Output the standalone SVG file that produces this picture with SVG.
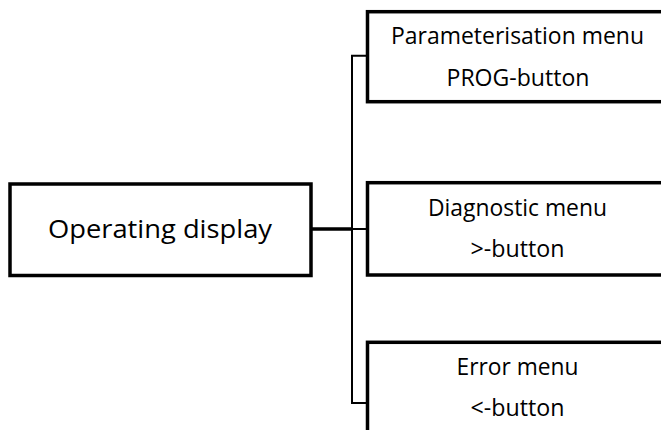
<svg xmlns="http://www.w3.org/2000/svg" width="661" height="430" viewBox="0 0 661 430">
<style>
.box{fill:#fff;stroke:#000;stroke-width:3.5}
.thin{fill:none;stroke:#000;stroke-width:2}
.thick{fill:none;stroke:#000;stroke-width:3.5}
text{font-family:"Open Sans","Noto Sans",sans-serif;fill:#000;text-anchor:middle}
.s{font-size:23px}
.l{font-size:26px}
</style>
<rect width="661" height="430" fill="#fff"/>
<g id="connectors">
<path class="thin" d="M367.5,55.7 H352 V403 H367.5"/>
<path class="thin" d="M352,229 H367.5"/>
<path class="thick" d="M311,229 H352"/>
</g>
<g id="operating-display">
<rect class="box" x="10" y="184" width="301" height="91.5"/>
<text class="l" x="160" y="238" textLength="224" lengthAdjust="spacingAndGlyphs">Operating display</text>
</g>
<g id="parameterisation-menu">
<rect class="box" x="367.5" y="11.7" width="310" height="90"/>
<text class="s" x="517.5" y="44.3" textLength="253" lengthAdjust="spacingAndGlyphs">Parameterisation menu</text>
<text class="s" x="518" y="85.7" textLength="143" lengthAdjust="spacingAndGlyphs">PROG-button</text>
</g>
<g id="diagnostic-menu">
<rect class="box" x="367.5" y="182.7" width="310" height="92.3"/>
<text class="s" x="517.5" y="215.5" textLength="179" lengthAdjust="spacingAndGlyphs">Diagnostic menu</text>
<text class="s" x="517.5" y="256.8" textLength="94" lengthAdjust="spacingAndGlyphs">&gt;-button</text>
</g>
<g id="error-menu">
<rect class="box" x="367.5" y="342.3" width="310" height="120"/>
<text class="s" x="517.5" y="375" textLength="122" lengthAdjust="spacingAndGlyphs">Error menu</text>
<text class="s" x="517.5" y="416.2" textLength="94" lengthAdjust="spacingAndGlyphs">&lt;-button</text>
</g>
</svg>
